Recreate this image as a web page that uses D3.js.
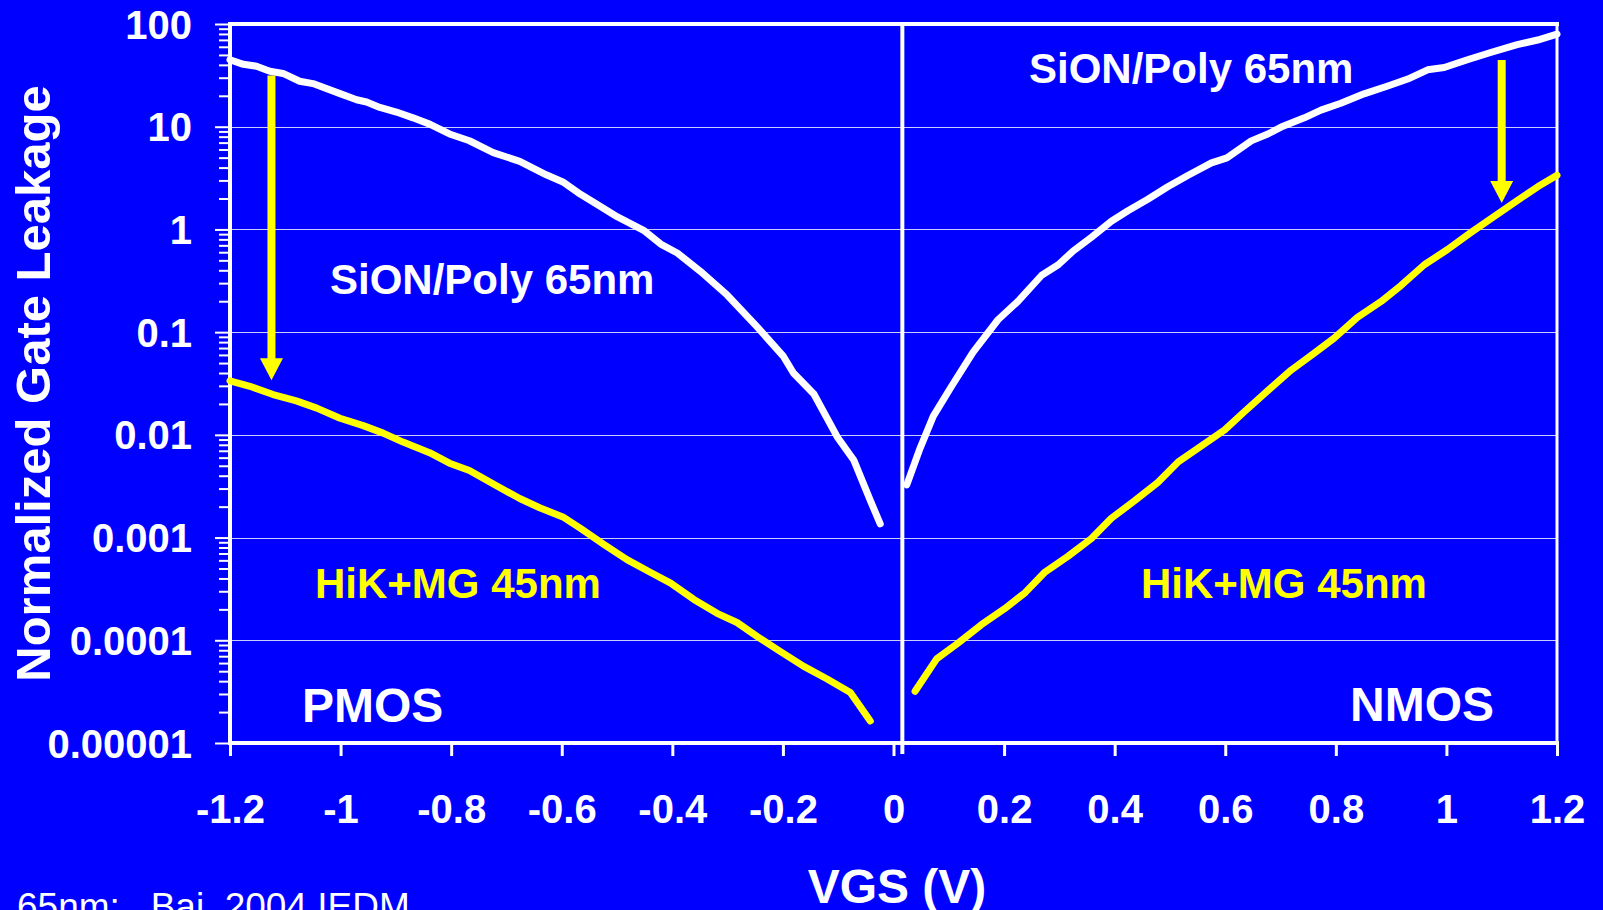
<!DOCTYPE html>
<html>
<head>
<meta charset="utf-8">
<script src="https://cdn.jsdelivr.net/npm/d3@7"></script>
<style>
  html, body { margin: 0; padding: 0; background: #0000ff; overflow: hidden; }
  svg { display: block; }
  text { font-family: "Liberation Sans", Arial, Helvetica, sans-serif; }
</style>
</head>
<body>
<svg id="chart" width="1603" height="910"></svg>
<script>
// Gate leakage (normalized) vs. VGS, [VGS (V), leakage] pairs
const pmosSiON = [
  [-1.200, 44.9], [-1.176, 40.5], [-1.152, 38.8], [-1.128, 34.7], [-1.104, 33.0],
  [-1.074, 27.7], [-1.050, 26.3], [-1.001, 21.0], [-0.971, 18.3], [-0.953, 17.4],
  [-0.929, 15.4], [-0.899, 13.9], [-0.869, 12.2], [-0.839, 10.6], [-0.803, 8.5],
  [-0.767, 7.3], [-0.724, 5.6], [-0.676, 4.6], [-0.628, 3.4], [-0.598, 2.9],
  [-0.566, 2.2], [-0.524, 1.6], [-0.500, 1.33], [-0.452, 0.98], [-0.421, 0.72],
  [-0.391, 0.59], [-0.349, 0.39], [-0.301, 0.23], [-0.247, 0.113], [-0.199, 0.058],
  [-0.181, 0.040], [-0.144, 0.025], [-0.102, 0.0096], [-0.072, 0.0057],
  [-0.042, 0.0023], [-0.024, 0.00136]
];
const pmosHiK = [
  [-1.200, 0.0336], [-1.164, 0.0297], [-1.122, 0.0247], [-1.080, 0.0214],
  [-1.043, 0.0182], [-1.001, 0.0145], [-0.959, 0.0123], [-0.923, 0.0104],
  [-0.887, 0.0085], [-0.839, 0.0067], [-0.803, 0.0053], [-0.767, 0.0045],
  [-0.718, 0.0032], [-0.676, 0.0024], [-0.640, 0.00195], [-0.598, 0.00159],
  [-0.566, 0.00123], [-0.524, 0.00086], [-0.482, 0.00061], [-0.440, 0.00046],
  [-0.403, 0.00036], [-0.361, 0.00025], [-0.319, 0.000183], [-0.283, 0.000149],
  [-0.241, 0.000104], [-0.205, 0.000078], [-0.163, 0.000056], [-0.120, 0.000042],
  [-0.078, 0.000031], [-0.042, 0.0000164]
];
const nmosSiON = [
  [0.024, 0.00326], [0.048, 0.0074], [0.072, 0.0152], [0.105, 0.0297],
  [0.144, 0.064], [0.189, 0.132], [0.225, 0.199], [0.268, 0.358], [0.298, 0.453],
  [0.325, 0.617], [0.358, 0.84], [0.394, 1.20], [0.424, 1.52], [0.460, 1.97],
  [0.496, 2.60], [0.533, 3.37], [0.575, 4.44], [0.603, 4.97], [0.647, 7.28],
  [0.677, 8.49], [0.701, 9.91], [0.743, 12.2], [0.773, 14.5], [0.809, 16.9],
  [0.851, 20.9], [0.894, 24.9], [0.930, 29.1], [0.966, 35.8], [0.996, 37.7],
  [1.038, 44.9], [1.080, 52.8], [1.128, 63.0], [1.165, 69.8], [1.200, 79.8]
];
const nmosHiK = [
  [0.039, 0.0000319], [0.078, 0.000066], [0.117, 0.000094], [0.159, 0.000142],
  [0.201, 0.000203], [0.238, 0.000291], [0.274, 0.000462], [0.316, 0.00066],
  [0.358, 0.00098], [0.394, 0.00154], [0.436, 0.00228], [0.478, 0.00344],
  [0.515, 0.00546], [0.557, 0.00782], [0.599, 0.0112], [0.635, 0.0169],
  [0.677, 0.0269], [0.719, 0.0426], [0.761, 0.0624], [0.797, 0.0875],
  [0.839, 0.139], [0.882, 0.199], [0.918, 0.285], [0.960, 0.453], [1.002, 0.637],
  [1.044, 0.931], [1.080, 1.27], [1.128, 1.91], [1.165, 2.60], [1.200, 3.37]
];

// Reduction arrows: VGS, leakage at tail, leakage at tip
const arrowVgs  = [-1.125, 1.10];
const arrowFrom = [31.5, 44.6];
const arrowTo   = [0.034, 1.81];

// Divider between the PMOS and NMOS panels (VGS)
const dividerVgs = 0.016;

// Tick values and labels
const xTicks = [-1.2, -1, -0.8, -0.6, -0.4, -0.2, 0, 0.2, 0.4, 0.6, 0.8, 1, 1.2];
const yDecades = [1e-5, 1e-4, 1e-3, 1e-2, 1e-1, 1, 10, 100];
const yLabels = ["0.00001", "0.0001", "0.001", "0.01", "0.1", "1", "10", "100"];

const W = 1603, H = 910;
const plot = { left: 230, right: 1557, top: 24, bottom: 743 };
const BLUE = "#0000ff", WHITE = "#ffffff", YELLOW = "#ffff00";

const svg = d3.select("#chart");
svg.append("rect").attr("width", W).attr("height", H).attr("fill", BLUE);

const x = d3.scaleLinear().domain([-1.2, 1.2]).range([plot.left, plot.right]);
const y = d3.scaleLog().domain([1e-5, 100]).range([plot.bottom, plot.top]);

// Horizontal grid at each decade
const gridVals = yDecades.filter(v => v > 1e-5 && v < 100);
svg.append("g").selectAll("line").data(gridVals).join("line")
  .attr("x1", plot.left).attr("x2", plot.right)
  .attr("y1", d => Math.round(y(d)) + 0.5).attr("y2", d => Math.round(y(d)) + 0.5)
  .attr("stroke", WHITE).attr("stroke-opacity", 0.8).attr("stroke-width", 1)
  .attr("shape-rendering", "crispEdges");

// Minor y ticks (2..9 of each decade)
const minors = [];
for (let e = -5; e < 2; e++) for (let m = 2; m <= 9; m++) minors.push(m * Math.pow(10, e));

const yMinor = svg.append("g").attr("transform", `translate(${plot.left},0)`)
  .call(d3.axisLeft(y).tickValues(minors).tickFormat("").tickSize(11));
const yMajor = svg.append("g").attr("transform", `translate(${plot.left},0)`)
  .call(d3.axisLeft(y).tickValues(yDecades)
    .tickFormat((d, i) => yLabels[i]).tickSize(15).tickPadding(23));
[yMinor, yMajor].forEach(g => {
  g.select(".domain").remove();
  g.selectAll(".tick line").attr("stroke", WHITE).attr("stroke-width", 2);
});
yMajor.selectAll(".tick text")
  .attr("fill", WHITE).attr("font-size", 40).attr("font-weight", "bold")
  .attr("font-family", "Liberation Sans, Arial, sans-serif")
  .attr("dy", "0.35em");

// X axis
const xAxis = svg.append("g").attr("transform", `translate(0,${plot.bottom})`)
  .call(d3.axisBottom(x).tickValues(xTicks).tickFormat(d => String(d)).tickSize(13));
xAxis.select(".domain").remove();
xAxis.selectAll(".tick line").attr("stroke", WHITE).attr("stroke-width", 3);
xAxis.selectAll(".tick text")
  .attr("fill", WHITE).attr("font-size", 40).attr("font-weight", "bold")
  .attr("font-family", "Liberation Sans, Arial, sans-serif")
  .attr("y", 80).attr("dy", 0);

// Plot frame
const frame = svg.append("g").attr("stroke", WHITE).attr("fill", "none");
frame.append("line").attr("x1", plot.left - 2).attr("x2", plot.right + 2)
  .attr("y1", plot.top).attr("y2", plot.top).attr("stroke-width", 4);
frame.append("line").attr("x1", plot.left - 2).attr("x2", plot.right + 2)
  .attr("y1", plot.bottom).attr("y2", plot.bottom).attr("stroke-width", 4);
frame.append("line").attr("x1", plot.left).attr("x2", plot.left)
  .attr("y1", plot.top).attr("y2", plot.bottom).attr("stroke-width", 4);
frame.append("line").attr("x1", plot.right).attr("x2", plot.right)
  .attr("y1", plot.top).attr("y2", plot.bottom).attr("stroke-width", 3);
frame.append("line").attr("x1", x(dividerVgs)).attr("x2", x(dividerVgs))
  .attr("y1", plot.top).attr("y2", plot.bottom + 11).attr("stroke-width", 4);

// Curves
const line = d3.line().x(d => x(d[0])).y(d => y(d[1]));
const series = [
  { data: pmosSiON, color: WHITE },
  { data: nmosSiON, color: WHITE },
  { data: pmosHiK, color: YELLOW },
  { data: nmosHiK, color: YELLOW }
];
svg.append("g").selectAll("path").data(series).join("path")
  .attr("d", d => line(d.data))
  .attr("fill", "none").attr("stroke", d => d.color).attr("stroke-width", 7)
  .attr("stroke-linecap", "round").attr("stroke-linejoin", "round");

// Downward arrows
const shaftW = 8, headW = 23, headH = 22;
svg.append("g").selectAll("path").data(arrowVgs.map((v, i) => [v, arrowFrom[i], arrowTo[i]]))
  .join("path")
  .attr("d", d => {
    const cx = x(d[0]), y0 = y(d[1]), y1 = y(d[2]), hb = y1 - headH;
    return `M${cx - shaftW / 2},${y0} L${cx + shaftW / 2},${y0} L${cx + shaftW / 2},${hb}` +
      ` L${cx + headW / 2},${hb} L${cx},${y1} L${cx - headW / 2},${hb} L${cx - shaftW / 2},${hb} Z`;
  })
  .attr("fill", YELLOW);

// Annotations
const ann = svg.append("g").attr("font-weight", "bold");
const addText = (t, px, py, size, color) =>
  ann.append("text").attr("x", px).attr("y", py).attr("font-size", size)
    .attr("fill", color).text(t);
addText("SiON/Poly 65nm", 330, 294, 42, WHITE);
addText("SiON/Poly 65nm", 1029, 83, 42, WHITE);
addText("HiK+MG 45nm", 315, 598, 42, YELLOW);
addText("HiK+MG 45nm", 1141, 598, 42, YELLOW);
addText("PMOS", 302, 722, 48, WHITE);
addText("NMOS", 1350, 721, 48, WHITE);

// Axis titles
svg.append("text")
  .attr("transform", `translate(50,${(plot.top + plot.bottom) / 2}) rotate(-90)`)
  .attr("text-anchor", "middle").attr("font-size", 49).attr("font-weight", "bold")
  .attr("fill", WHITE).text("Normalized Gate Leakage");
svg.append("text")
  .attr("x", 897).attr("y", 903)
  .attr("text-anchor", "middle").attr("font-size", 48).attr("font-weight", "bold")
  .attr("fill", WHITE).text("VGS (V)");

// Source note
svg.append("text")
  .attr("x", 17).attr("y", 919)
  .attr("font-size", 37).attr("fill", WHITE)
  .style("white-space", "pre")
  .text("65nm:   Bai, 2004 IEDM");
</script>
</body>
</html>
